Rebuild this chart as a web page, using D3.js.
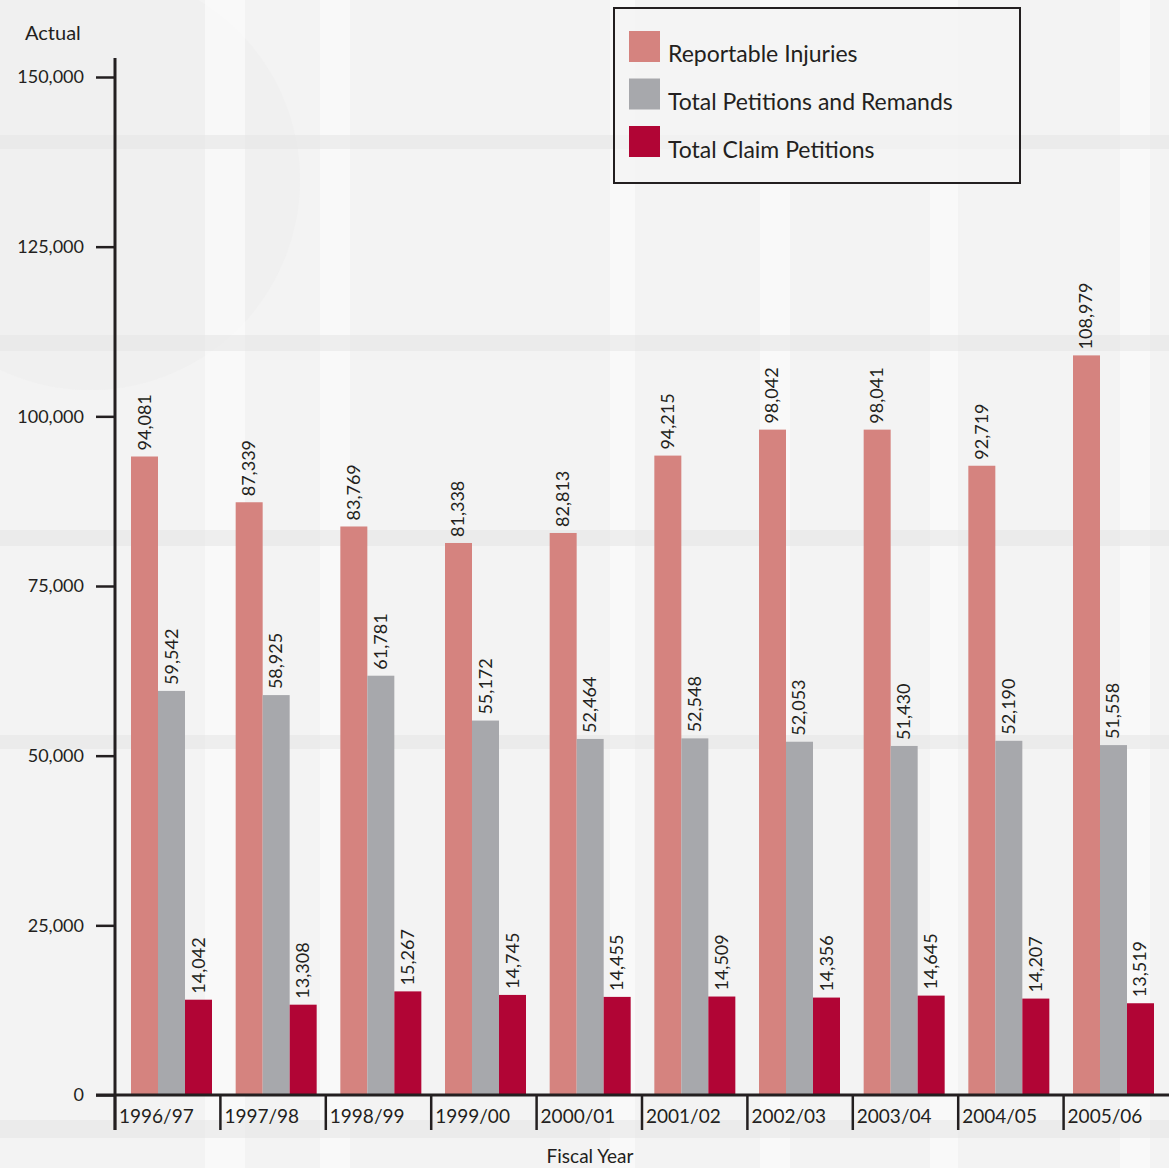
<!DOCTYPE html>
<html><head><meta charset="utf-8">
<script src="https://cdn.jsdelivr.net/npm/d3@7"></script>
<style>body{margin:0;background:#f3f3f3}svg{display:block}text{font-family:Lato,"Open Sans",sans-serif;fill:#231f20}</style>
</head><body>
<svg id="c" width="1169" height="1168"></svg>
<script>
const years = ["1996/97","1997/98","1998/99","1999/00","2000/01","2001/02","2002/03","2003/04","2004/05","2005/06"];
const reportableInjuries = [94081,87339,83769,81338,82813,94215,98042,98041,92719,108979];
const totalPetitionsRemands = [59542,58925,61781,55172,52464,52548,52053,51430,52190,51558];
const totalClaimPetitions = [14042,13308,15267,14745,14455,14509,14356,14645,14207,13519];
const seriesNames = ["Reportable Injuries","Total Petitions and Remands","Total Claim Petitions"];
const seriesColors = ["#d5837f","#a7a8ac","#b10535"];
const yTicks = [0,25000,50000,75000,100000,125000,150000];

const svg = d3.select("#c");
// background texture
const bg = svg.append("g");
bg.append("rect").attr("width",1169).attr("height",1168).attr("fill","#f3f3f3");
bg.append("circle").attr("cx",90).attr("cy",180).attr("r",210).attr("fill","#ededed").attr("opacity",0.5);
[[205,40],[320,30],[610,25],[760,30],[930,28],[1120,30]].forEach(([x,w])=>bg.append("rect").attr("x",x).attr("y",0).attr("width",w).attr("height",1168).attr("fill","#fafafa").attr("opacity",0.8));
[[135,14],[335,16],[530,16],[735,14],[1120,18]].forEach(([y,h])=>bg.append("rect").attr("x",0).attr("y",y).attr("width",1169).attr("height",h).attr("fill","#e6e6e6").attr("opacity",0.6));

const x0 = d3.scaleBand().domain(years).range([115,1169]).paddingInner(0).paddingOuter(0);
const xb = d3.scaleBand().domain(years).range([131,1154]).paddingInner(0.2261).paddingOuter(0);
const y = d3.scaleLinear().domain([0,150000]).range([1095,77]);
const x1 = d3.scaleBand().domain(d3.range(3)).range([0,xb.bandwidth()]);

const data = years.map((yr,i)=>({yr, vals:[reportableInjuries[i],totalPetitionsRemands[i],totalClaimPetitions[i]]}));
const fmt = d3.format(",");
const g = svg.append("g");
data.forEach(d=>{
  d.vals.forEach((v,k)=>{
    const bx = xb(d.yr)+x1(k);
    g.append("rect").attr("x",bx).attr("y",y(v)).attr("width",x1.bandwidth()).attr("height",y(0)-y(v)).attr("fill",seriesColors[k]);
    const cx = bx + x1.bandwidth()/2;
    g.append("text").attr("transform",`translate(${cx+6},${y(v)-6}) rotate(-90)`).attr("font-size",18).text(fmt(v));
  });
});

// y axis
const yAxis = d3.axisLeft(y).tickValues(yTicks).tickFormat(d=>fmt(d)).tickSize(19).tickPadding(12);
const ya = svg.append("g").attr("transform","translate(115,0)").call(yAxis);
ya.select(".domain").remove();
ya.selectAll(".tick line").attr("stroke","#231f20").attr("stroke-width",2.5);
ya.selectAll(".tick text").attr("font-size",18).attr("fill","#231f20").attr("dy","0.32em");
svg.append("line").attr("x1",115).attr("x2",115).attr("y1",58).attr("y2",1130).attr("stroke","#231f20").attr("stroke-width",3);

// x axis
svg.append("line").attr("x1",96).attr("x2",1169).attr("y1",1095).attr("y2",1095).attr("stroke","#231f20").attr("stroke-width",3);
years.forEach(yr=>{
  svg.append("line").attr("x1",x0(yr)).attr("x2",x0(yr)).attr("y1",1095).attr("y2",1130).attr("stroke","#231f20").attr("stroke-width",2.5);
  svg.append("text").attr("x",x0(yr)+4).attr("y",1123).attr("font-size",19).text(yr);
});

svg.append("text").attr("x",25).attr("y",40).attr("font-size",20).text("Actual");
svg.append("text").attr("x",590).attr("y",1163).attr("text-anchor","middle").attr("font-size",19).text("Fiscal Year");

// legend
const lg = svg.append("g");
lg.append("rect").attr("x",614).attr("y",8).attr("width",406).attr("height",175).attr("fill","#f3f3f3").attr("fill-opacity",0.7).attr("stroke","#231f20").attr("stroke-width",2);
seriesNames.forEach((n,i)=>{
  lg.append("rect").attr("x",629).attr("y",31+i*47.5).attr("width",31).attr("height",31).attr("fill",seriesColors[i]);
  lg.append("text").attr("x",668).attr("y",62+i*48).attr("font-size",23).text(n);
});
</script>
</body></html>
